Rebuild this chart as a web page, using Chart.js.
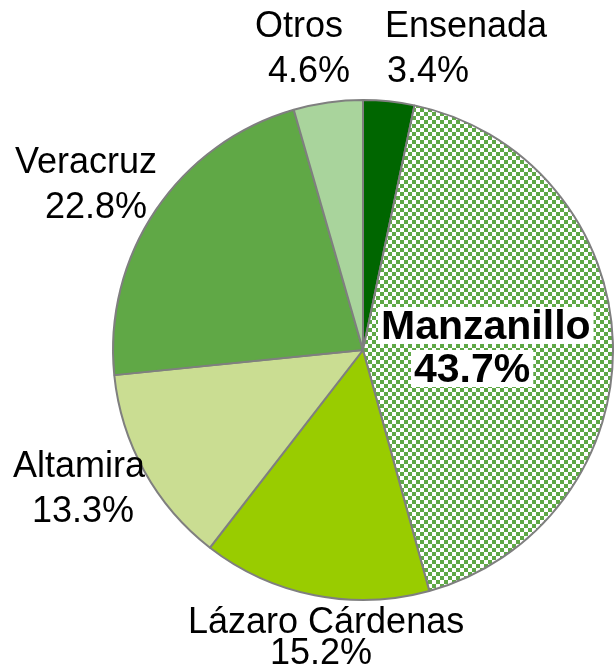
<!DOCTYPE html>
<html>
<head>
<meta charset="utf-8">
<script src="https://cdn.jsdelivr.net/npm/chart.js@4.4.1/dist/chart.umd.min.js"></script>
<style>
  html, body { margin: 0; padding: 0; background: #ffffff; }
  #wrap { width: 614px; height: 665px; position: relative; }
</style>
</head>
<body>
<div id="wrap"><canvas id="c" width="614" height="665"></canvas></div>
<script>
// ---- data ----
const categories = ["Ensenada", "Manzanillo", "Lázaro Cárdenas", "Altamira", "Veracruz", "Otros"];
const shares = [3.4, 43.7, 15.2, 13.3, 22.8, 4.6];

// ---- styles ----
const sliceColors = ["#006600", null, "#99cc00", "#cadd92", "#60a846", "#a9d49c"];
const patternGreen = "#5fa846";
const FONT = '"Liberation Sans", Arial, sans-serif';

// label layout (left x, baseline y per line), separate from data
const labelLayout = [
  { name: [385, 37], val: [387, 82] },           // Ensenada
  { name: [381, 339], val: [414, 382], bold: true }, // Manzanillo
  { name: [188, 633], val: [270, 664] },         // Lázaro Cárdenas
  { name: [13, 477], val: [32, 522] },           // Altamira
  { name: [15, 173], val: [45, 218] },           // Veracruz
  { name: [255, 37], val: [268, 82] }            // Otros
];

function checkerPattern(ctx) {
  const p = document.createElement('canvas');
  p.width = 8; p.height = 8;
  const g = p.getContext('2d');
  g.fillStyle = '#ffffff';
  g.fillRect(0, 0, 8, 8);
  g.fillStyle = patternGreen;
  g.fillRect(0, 0, 4, 4);
  g.fillRect(4, 4, 4, 4);
  return ctx.createPattern(p, 'repeat');
}

const canvas = document.getElementById('c');
const ctx = canvas.getContext('2d');
const colors = sliceColors.map(c => c === null ? checkerPattern(ctx) : c);

const labelPlugin = {
  id: 'sliceLabels',
  afterDraw(chart) {
    const c = chart.ctx;
    c.save();
    c.textAlign = 'left';
    c.textBaseline = 'alphabetic';
    categories.forEach((name, i) => {
      const L = labelLayout[i];
      const valText = shares[i].toFixed(1) + '%';
      if (L.bold) {
        c.font = 'bold 41px ' + FONT;
        [[name, L.name], [valText, L.val]].forEach(([t, pos]) => {
          const w = c.measureText(t).width;
          c.fillStyle = '#ffffff';
          c.fillRect(pos[0] - 3, pos[1] - 32, w + 6, 37);
        });
        c.fillStyle = '#000000';
        c.fillText(name, L.name[0], L.name[1]);
        c.fillText(valText, L.val[0], L.val[1]);
      } else {
        c.font = '36px ' + FONT;
        c.fillStyle = '#000000';
        c.fillText(name, L.name[0], L.name[1]);
        c.fillText(valText, L.val[0], L.val[1]);
      }
    });
    c.restore();
  }
};

new Chart(canvas, {
  type: 'pie',
  data: {
    labels: categories,
    datasets: [{
      data: shares,
      backgroundColor: colors,
      borderColor: '#7f7f7f',
      borderWidth: 2,
      borderAlign: 'center'
    }]
  },
  options: {
    responsive: false,
    animation: false,
    devicePixelRatio: 1,
    layout: { padding: { left: 112, right: 0, top: 99, bottom: 64 } },
    plugins: {
      legend: { display: false },
      tooltip: { enabled: false }
    }
  },
  plugins: [labelPlugin]
});
</script>
</body>
</html>
